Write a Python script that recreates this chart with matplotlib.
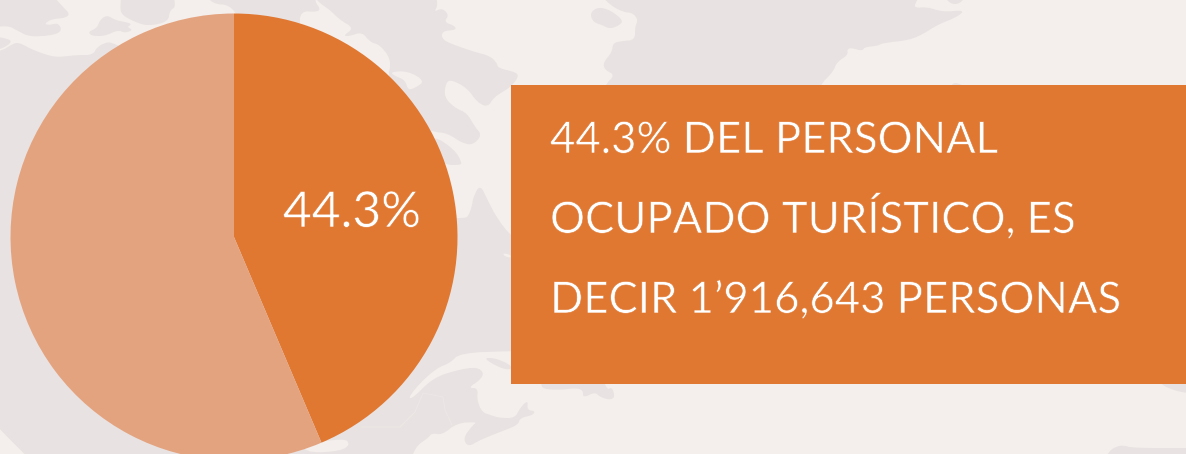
import numpy as np
import matplotlib
matplotlib.use("Agg")
import matplotlib.pyplot as plt
import matplotlib.patheffects as pe
from matplotlib.patches import Polygon, Rectangle

# datos del grafico
porcentajes = [43.6, 56.4]
colores = ['#E07832', '#E4A37F']
etiqueta = '44.3%'
lineas = ['44.3% DEL PERSONAL', 'OCUPADO TURÍSTICO, ES', 'DECIR 1’916,643 PERSONAS']

FONDO = '#F4EFEC'
TIERRA = '#E8E3E2'
W, H = 1186, 454

# mapa decorativo del fondo, en pixeles (se sale del lienzo para que el suavizado no se note)
tierra = [
    [(-40,500),(-40,56),(0,52),(14,43),(20,43),(33,50),(50,56),(60,57),(77,55),(93,55),(97,47),(107,42),(113,43),(150,60),
     (300,150),(440,218),(457,218),(463,218),(468,217),(472,206),(473,198),(480,184),(488,201),(497,218),(510,235),
     (520,240),(520,352),(511,351),(460,353),(450,363),(437,368),(420,383),(408,398),(413,398),(433,378),(457,370),
     (477,367),(484,373),(480,380),(468,388),(478,388),(477,400),(482,412),(490,415),(500,418),(515,418),(520,408),
     (528,400),(527,410),(535,411),(533,415),(520,418),(518,425),(500,432),(480,440),(468,447),(463,438),(473,425),
     (477,422),(457,423),(442,435),(432,433),(428,438),(415,447),(408,470),(400,500)],
    [(312,-8),(318,2),(330,10),(340,20),(354,28),(343,36),(350,36),(362,32),(370,42),(380,45),(390,58),(390,70),(388,73),
     (400,120),(433,132),(447,133),(462,143),(473,145),(482,135),(475,127),(467,113),(455,108),(444,97),(446,82),
     (452,80),(467,88),(478,103),(488,107),(494,97),(511,87),(519,76),(515,72),(498,68),(497,63),(490,56),(475,52),
     (460,47),(442,40),(442,31),(456,30),(455,26),(444,22),(449,15),(442,8),(434,12),(438,5),(435,-8)],
    [(-20,-20),(50,-8),(62,6),(70,14),(65,18),(52,19),(44,24),(50,25),(58,23),(62,30),(55,35),(30,37),(18,31),(7,25),(-20,30)],
    [(-20,35),(0,37),(14,41),(0,50),(-20,52)],
    [(88,32),(97,28),(100,20),(107,15),(115,20),(125,22),(132,24),(127,27),(133,30),(125,33),(118,30),(105,36),(92,36)],
    [(120,8),(122,-10),(172,-10),(176,7),(170,10),(168,22),(148,26),(135,22),(122,15)],
    [(203,-8),(213,4),(230,5),(240,20),(300,30),(300,11),(318,12),(320,8),(315,2),(316,-8)],
    [(433,135),(455,150),(462,163),(460,165),(445,165),(425,150)],
    [(590,13),(598,7),(610,10),(623,20),(620,25),(610,29),(602,25),(593,22)],
    [(598,-8),(610,5),(623,12),(633,13),(638,20),(635,27),(635,40),(622,41),(613,43),(612,52),(603,63),(605,70),(615,75),
     (605,85),(605,95),(820,95),(820,85),(833,72),(837,62),(848,55),(847,49),(852,48),(862,51),(865,47),(877,46),(883,43),
     (910,40),(925,33),(937,25),(957,17),(965,10),(943,12),(927,7),(915,8),(915,3),(923,-8)],
    [(943,-6),(967,-6),(960,4),(950,4)],
    [(950,90),(953,82),(963,85),(965,90)],
    [(1160,375),(1160,384),(1173,390),(1186,393),(1210,395),(1210,375)],
    [(1100,470),(1108,453),(1113,448),(1122,445),(1133,448),(1186,448),(1220,448),(1220,470)],
    [(483,358),(495,358),(511,365),(511,370),(500,368)],
    [(541,375),(541,384),(543,389),(560,390),(575,388),(583,390),(583,398),(595,392),(600,397),(610,400),(615,397),(612,387),
     (607,390),(602,375)],
]
agua = [
    [(390,72),(408,71),(425,81),(415,88),(408,90),(405,80),(395,76)],
    [(503,253),(511,255),(511,258),(504,256)],
    [(300,445),(345,438),(350,445),(340,451),(310,453)],
]
frontera = [(362,427),(400,427),(415,412),(423,393),(443,397),(445,410),(452,425)]


def Suavizar(puntos, veces=2):
    # esquinas redondeadas (chaikin)
    p = np.array(puntos, dtype=float)
    for _ in range(veces):
        q = np.roll(p, -1, axis=0)
        p = np.column_stack([0.75*p + 0.25*q, 0.25*p + 0.75*q]).reshape(-1, 2)
    return p


fig = plt.figure(figsize=(W/100, H/100), dpi=100, facecolor=FONDO)

ax_mapa = fig.add_axes([0, 0, 1, 1], zorder=0)
ax_mapa.set_xlim(0, W)
ax_mapa.set_ylim(H, 0)
ax_mapa.axis('off')
for poly in tierra:
    ax_mapa.add_patch(Polygon(Suavizar(poly), closed=True, fc=TIERRA, ec='none'))
for poly in agua:
    ax_mapa.add_patch(Polygon(Suavizar(poly), closed=True, fc=FONDO, ec='none'))
ax_mapa.plot(*zip(*frontera), color='#EDE8E6', lw=0.7)

# pastel
R = 223.5
cx, cy = 234, 237
ax_pie = fig.add_axes([(cx-R)/W, 1-(cy+R)/H, 2*R/W, 2*R/H], zorder=1)
ax_pie.pie(porcentajes, colors=colores, startangle=90, counterclock=False, radius=1)
ax_pie.set_xlim(-1, 1)
ax_pie.set_ylim(-1, 1)

ax_txt = fig.add_axes([0, 0, 1, 1], zorder=2)
ax_txt.set_xlim(0, W)
ax_txt.set_ylim(H, 0)
ax_txt.axis('off')
ax_txt.add_patch(Rectangle((511, 85), 675, 299, fc=colores[0], ec='none'))

FUENTE = 'Lato'
# Lato normal es algo gruesa: se adelgaza con un borde del color de fondo
fino = [pe.Stroke(linewidth=0.45, foreground=colores[0])]
ax_txt.text(352, 227, etiqueta, color='white', fontsize=35.8, family=FUENTE, ha='center', va='baseline', path_effects=fino)
for linea, base in zip(lineas, [153, 233, 313]):
    ax_txt.text(550, base, linea, color='white', fontsize=31.5, family=FUENTE, ha='left', va='baseline', path_effects=fino)

fig.savefig('out.png', dpi=100, facecolor=FONDO)
